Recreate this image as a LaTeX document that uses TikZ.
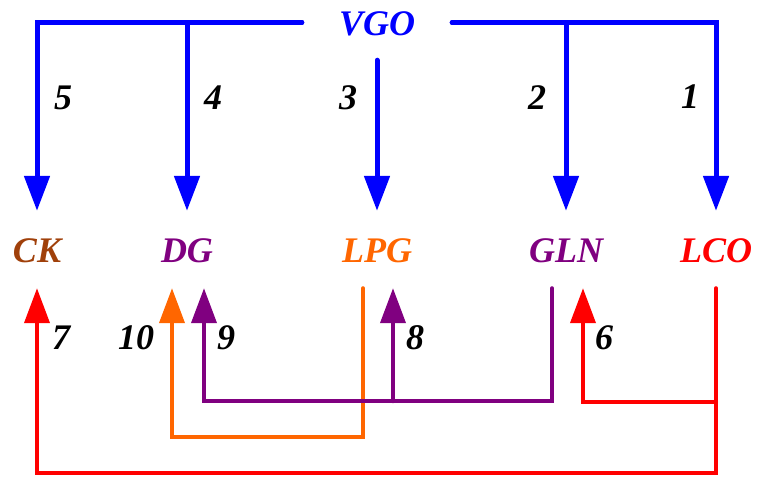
\documentclass[tikz,border=0pt]{standalone}
\usepackage{fontspec}
\setmainfont{Liberation Serif}
\usetikzlibrary{arrows.meta,positioning}
\definecolor{vgoblue}{HTML}{0000FF}
\definecolor{ckbrown}{HTML}{A0400A}
\definecolor{gpurple}{HTML}{800080}
\definecolor{lorange}{HTML}{FF6600}
\definecolor{lred}{HTML}{FF0000}

\begin{document}
\begin{tikzpicture}[x=1pt,y=-1pt,>={Triangle[length=35pt,width=25pt]},
 prod/.style={font=\fontsize{36}{40}\selectfont\bfseries\itshape,text height=25pt,text depth=0pt,inner xsep=2pt,inner ysep=26pt},
 num/.style={font=\fontsize{36}{40}\selectfont\bfseries\itshape,inner sep=0pt},
 feed/.style={draw=vgoblue,line width=5pt,line cap=round,->},
 route/.style={line width=4pt,line cap=round,->}]
\useasboundingbox (0,0) rectangle (757,480);
\node[prod,text=vgoblue,inner xsep=37pt,inner ysep=25pt] (vgo) at (377,22.5) {VGO};
\node[prod,text=ckbrown] (ck) at (37,249.5) {CK};
\node[prod,text=gpurple] (dg) at (187,249.5) {DG};
\node[prod,text=lorange] (lpg) at (377,249.5) {LPG};
\node[prod,text=gpurple] (gln) at (566,249.5) {GLN};
\node[prod,text=lred] (lco) at (716,249.5) {LCO};
\draw[feed] (vgo.west) -| (ck.north);
\draw[feed] (vgo.west) -| (dg.north);
\draw[feed] (vgo.south) -- (lpg.north);
\draw[feed] (vgo.east) -| (gln.north);
\draw[feed] (vgo.east) -| (lco.north);
\draw[route,draw=lred] (lco.south) -- ++(0,185) -| (ck.south);
\draw[route,draw=lred] ([yshift=-114pt]lco.south) -| ([xshift=-133pt]lco.south);
\draw[route,draw=lorange] ([xshift=-14pt]lpg.south) -- ++(0,149) -| ([xshift=-15pt]dg.south);
\draw[route,draw=gpurple] ([xshift=-14pt]gln.south) -- ++(0,113) -| ([xshift=17pt]dg.south);
\draw[route,draw=gpurple] ([xshift=16pt,yshift=-113pt]lpg.south) -- ([xshift=16pt]lpg.south);
\node[num] (n1) at (690,97) {1};
\node[num] (n2) at (537,98) {2};
\node[num] (n3) at (348,98) {3};
\node[num] (n4) at (213,98) {4};
\node[num] (n5) at (63,98) {5};
\node[num] (n6) at (604,338) {6};
\node[num] (n7) at (61,338) {7};
\node[num] (n8) at (415,338) {8};
\node[num] (n9) at (226,338) {9};
\node[num] (n10) at (136,338) {10};
\end{tikzpicture}
\end{document}
